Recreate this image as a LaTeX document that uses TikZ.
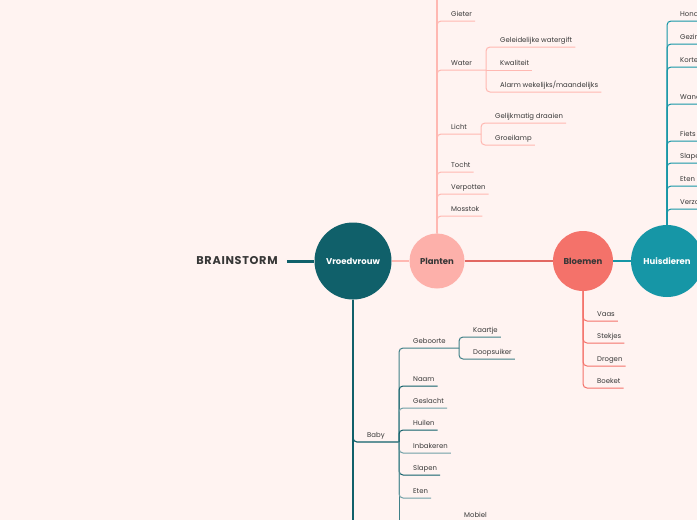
\documentclass[tikz,border=0pt]{standalone}
\usepackage{fontspec}
\setmainfont{Poppins}
\definecolor{bgpink}{RGB}{255,243,241}
\definecolor{tealdark}{RGB}{16,96,106}
\definecolor{teallight}{RGB}{112,160,166}
\definecolor{tealmid}{RGB}{64,128,136}
\definecolor{plantpink}{RGB}{253,176,170}
\definecolor{plantline}{RGB}{255,184,178}
\definecolor{bloemred}{RGB}{244,114,106}
\definecolor{redline}{RGB}{226,104,98}
\definecolor{huisteal}{RGB}{22,150,166}
\definecolor{txtgray}{RGB}{55,55,55}
\tikzset{
  hub/.style={circle, inner sep=0pt, font=\fontsize{8.5}{10}\selectfont\bfseries},
  item/.style={anchor=south west, inner xsep=3pt, inner ysep=3pt, text height=5pt, text depth=1.5pt,
    text=txtgray, font=\fontsize{6.9}{8}\selectfont},
  twig/.style={line width=1pt, rounded corners=4pt},
}
\begin{document}
\begin{tikzpicture}[x=1pt,y=-1pt]
  \fill[bgpink] (0,0) rectangle (697,520);
  \useasboundingbox (0,0) rectangle (697,520);
  % hubs
  \node[font=\fontsize{11.3}{13}\selectfont\bfseries\addfontfeatures{LetterSpace=6}, text=txtgray, inner xsep=9pt] (brain) at (237,261) {BRAINSTORM};
  \node[hub, fill=tealdark, minimum size=77pt, text=white] (vroed) at (353,261) {Vroedvrouw};
  \node[hub, fill=plantpink, minimum size=55pt, text=txtgray] (planten) at (437,261) {Planten};
  \node[hub, fill=bloemred, minimum size=60pt, text=txtgray] (bloemen) at (583,261) {Bloemen};
  \node[hub, fill=huisteal, minimum size=72pt, text=white] (huis) at (667,261) {Huisdieren};
  \draw[tealdark, line width=3pt] (brain) -- (vroed);
  \draw[plantline, line width=2.5pt] (vroed) -- (planten);
  \draw[redline, line width=2pt] (planten) -- (bloemen);
  \draw[huisteal, line width=2pt] (bloemen) -- (huis);
  % planten
  \coordinate (pTop) at (437,-5);
  \coordinate (waterJ) at (486,70);
  \coordinate (lichtJ) at (481,134);
  \node[item] (gieter) at (448,21) {Gieter};
  \node[item] (water) at (448,70) {Water};
  \node[item] (gelei) at (497,47) {Geleidelijke watergift};
  \node[item] (kwal) at (497,70) {Kwaliteit};
  \node[item] (alarm) at (497,92) {Alarm wekelijks/maandelijks};
  \node[item] (licht) at (448,134) {Licht};
  \node[item] (gelijk) at (492,123) {Gelijkmatig draaien};
  \node[item] (groei) at (492,145) {Groeilamp};
  \node[item] (tocht) at (448,172) {Tocht};
  \node[item] (verpot) at (448,194) {Verpotten};
  \node[item] (mos) at (448,216) {Mosstok};
  \draw[twig, plantline, line width=1.5pt] (planten.north) -- (pTop);
  \foreach \n in {gieter,tocht,verpot,mos} {\draw[twig, plantline] (planten.north) |- (\n.south east);}
  \draw[twig, plantline] (planten.north) |- (waterJ);
  \draw[twig, plantline] (planten.north) |- (lichtJ);
  \draw[twig, plantline] (waterJ) |- (gelei.south east);
  \draw[twig, plantline] (waterJ) -- (kwal.south east);
  \draw[twig, plantline] (waterJ) |- (alarm.south east);
  \draw[twig, plantline] (lichtJ) |- (gelijk.south east);
  \draw[twig, plantline] (lichtJ) |- (groei.south east);
  % bloemen
  \node[item] (vaas) at (594,321) {Vaas};
  \node[item] (stekjes) at (594,343) {Stekjes};
  \node[item] (drogen) at (594,366) {Drogen};
  \node[item] (boeket) at (594,388) {Boeket};
  \foreach \n in {vaas,stekjes,drogen,boeket} {\draw[twig, bloemred] (bloemen.south) |- (\n.south east);}
  % huisdieren
  \tikzset{huisitem/.style={item, text width=40pt, align=left}}
  \node[huisitem] (hond) at (677,21) {Hond};
  \node[huisitem] (gezin) at (677,44) {Gezin};
  \node[huisitem] (korte) at (677,67) {Korte};
  \node[huisitem] (wand) at (677,104) {Wand};
  \node[huisitem] (fiets) at (677,141) {Fiets};
  \node[huisitem] (slape) at (677,163) {Slape};
  \node[huisitem] (etenh) at (677,186) {Eten};
  \node[huisitem] (verzo) at (677,209) {Verzo};
  \foreach \n in {hond,gezin,korte,wand,fiets,slape,etenh,verzo} {\draw[twig, huisteal] (huis.north) |- (\n.south east);}
  % vroedvrouw
  \coordinate (vBot) at (353,530);
  \coordinate (babyJ) at (399,442);
  \coordinate (babyBot) at (399,530);
  \coordinate (geboJ) at (459,348);
  \draw[tealdark, line width=2pt] (vroed.south) -- (vBot);
  \node[item] (baby) at (364,442) {Baby};
  \draw[twig, tealdark, line width=1.2pt] (vroed.south) |- (babyJ);
  \draw[twig, tealmid] (babyJ) -- (babyBot);
  \node[item] (gebo) at (410,348) {Geboorte};
  \draw[twig, tealmid] (babyJ) |- (geboJ);
  \node[item] (kaart) at (470,337) {Kaartje};
  \node[item] (doop) at (470,359) {Doopsuiker};
  \draw[twig, tealmid] (geboJ) |- (kaart.south east);
  \draw[twig, tealmid] (geboJ) |- (doop.south east);
  \node[item] (naam) at (410,386) {Naam};
  \node[item] (geslacht) at (410,408) {Geslacht};
  \node[item] (huilen) at (410,430) {Huilen};
  \node[item] (inbak) at (410,453) {Inbakeren};
  \node[item] (slapen) at (410,475) {Slapen};
  \node[item] (eten) at (410,498) {Eten};
  \foreach \n/\c in {naam/tealdark,geslacht/teallight,huilen/tealdark,inbak/teallight,slapen/tealdark,eten/teallight}
    {\draw[twig, \c] (babyJ) |- (\n.south east);}
  \node[item] (mobiel) at (461,522.5) {Mobiel};
\end{tikzpicture}
\end{document}
